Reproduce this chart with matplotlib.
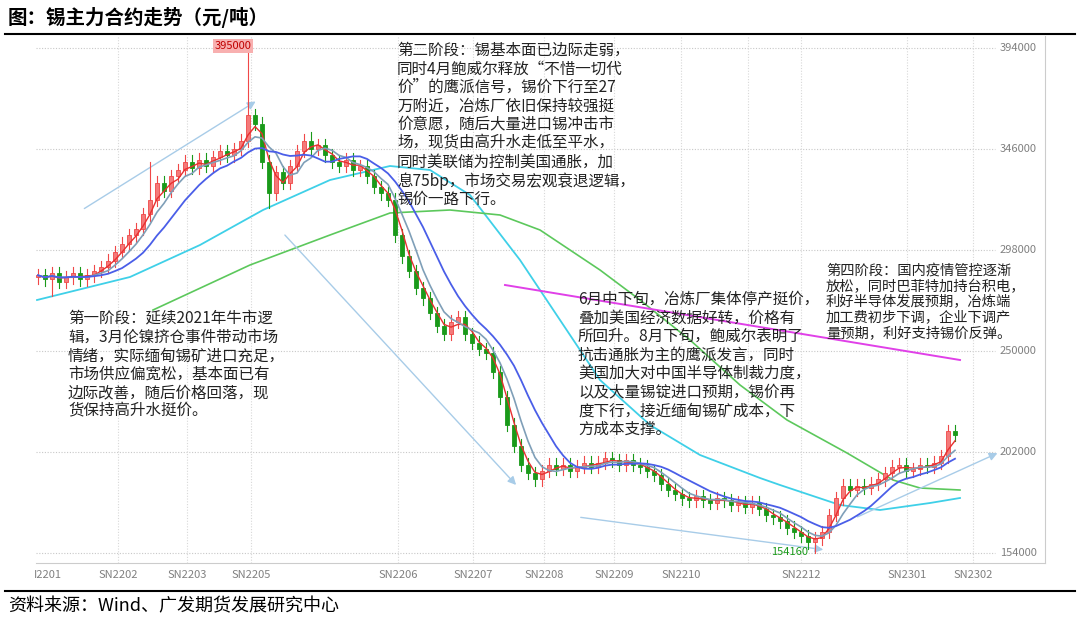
import matplotlib
matplotlib.use("Agg")
import matplotlib.pyplot as plt
import numpy as np
import pandas as pd
from matplotlib.patches import Rectangle

plt.rcParams['font.family'] = ['Noto Sans CJK SC', 'DejaVu Sans']

# closing prices (thousand yuan/ton), one candle per ~2 trading days
closes = [286,284,287,283,285,287,284,286,288,290,
          293,297,301,305,308,315,322,330,326,333,
          336,340,337,341,338,342,345,343,346,350,
          362,358,340,325,335,330,338,345,350,346,
          348,343,340,338,341,336,338,333,328,325,
          322,305,295,288,280,275,268,262,258,264,
          266,258,254,251,249,240,228,215,205,196,
          192,189,193,196,194,196,193,195,197,195,
          197,199,198,196,198,196,195,193,191,187,
          184,182,180,179,181,179,178,180,179,177,
          178,176,178,175,172,171,169,166,164,162,
          159,161,164,172,180,186,184,186,185,187,
          189,192,195,196,193,194,196,195,197,200,212,210]
spike_high = {30: 395.0, 16: 340.0, 39: 354.0}
spike_low = {33: 318.0, 111: 154.16, 2: 276.0}

# longer moving averages: (pixel x, pixel y)
ma60_px = [(37,300),(130,277),(200,245),(263,210),(330,180),(390,166),(430,170),(470,195),
           (520,260),(560,320),(600,380),(650,425),(700,455),(760,478),(780,485),(840,505),
           (880,510),(930,503),(960,498)]
ma120_px = [(153,310),(250,265),(330,235),(390,213),(450,210),(500,215),(540,230),(600,270),
            (640,300),(690,340),(740,385),(787,420),(847,453),(893,480),(920,488),(960,490)]

xticks_px = [48,118,187,251,398,473,544,614,681,801,907,973]
xtick_labels = ['I2201','SN2202','SN2203','SN2205','SN2206','SN2207','SN2208','SN2209','SN2210','SN2212','SN2301','SN2302']
ylevels = [154000,202000,250000,298000,346000,394000]

def px2i(x): return (x-38)/7.0
def py2p(y): return 154 + (553-y)/2.104

fig = plt.figure(figsize=(10.8,6.2), dpi=100)
ax = fig.add_axes([36/1080, 1-563/620, 1009/1080, 527/620])
c = np.array(closes, float)
o = np.concatenate([[c[0]-1], c[:-1]])
n = len(c)
for i in range(n):
    up = c[i] >= o[i]
    col = '#f04848' if up else '#1a9a1a'
    hi = max(o[i], c[i]) + 3.0
    lo = min(o[i], c[i]) - 3.0
    if i in spike_high: hi = spike_high[i]
    if i in spike_low: lo = spike_low[i]
    ax.plot([i,i],[lo,hi], color=col, lw=0.8, zorder=3)
    b = min(o[i],c[i]); h = max(abs(c[i]-o[i]), 0.4)
    ax.add_patch(Rectangle((i-0.3,b),0.6,h, facecolor=col if not up else '#f47a7a', edgecolor=col, lw=0.6, zorder=4))

s = pd.Series(c)
idx = np.arange(n)
ax.plot(idx, s.rolling(3,min_periods=1).mean(), color='#e83030', lw=1.0, zorder=5)
ax.plot(idx, s.rolling(5,min_periods=1).mean(), color='#7f9fb8', lw=1.2, zorder=5)
ax.plot(idx, s.rolling(10,min_periods=1).mean(), color='#4a5ee8', lw=1.3, zorder=5)
ax.plot([px2i(x) for x,_ in ma60_px],[py2p(y) for _,y in ma60_px], color='#3fd0e8', lw=1.3, zorder=2)
ax.plot([px2i(x) for x,_ in ma120_px],[py2p(y) for _,y in ma120_px], color='#5cc85c', lw=1.2, zorder=2)
ax.plot([px2i(505),px2i(960)],[py2p(285),py2p(360)], color='#e040e8', lw=1.4, zorder=2)

for (x0,y0,x1,y1) in [(82,210,258,100),(283,233,518,487),(578,517,826,550),(855,518,1000,452)]:
    ax.annotate('', xy=(px2i(x1),py2p(y1)), xytext=(px2i(x0),py2p(y0)),
                arrowprops=dict(arrowstyle='-|>', color='#a8cce8', lw=1.0, mutation_scale=12), zorder=2)

xl = (px2i(36), px2i(1045))
ax.set_xlim(*xl); ax.set_ylim(py2p(563), py2p(36))
for lv in ylevels:
    p = lv/1000
    ax.plot([xl[0], px2i(995)],[p,p], color='#c8c8c8', lw=0.8, ls=(0,(1,1.5)), zorder=1)
    ax.text(px2i(1000), p, str(lv), fontsize=8, color='#808080', va='center', ha='left')
for x in xticks_px[1:]:
    ax.axvline(px2i(x), color='#d8d8d8', lw=0.8, ls=(0,(1,1.5)), zorder=1)
ax.axvline(px2i(748), color='#d8d8d8', lw=0.8, ls=(0,(1,1.5)), zorder=1)
ax.set_xticks([px2i(x) for x in xticks_px]); ax.set_xticklabels(xtick_labels, fontsize=8, color='#808080')
ax.tick_params(axis='x', length=0, pad=5)
ax.set_yticks([])
for sp in ['top','left']: ax.spines[sp].set_visible(False)
ax.spines['bottom'].set_color('#cccccc'); ax.spines['right'].set_color('#cccccc')

ax.text(px2i(233), 395, '395000', fontsize=8, color='#c00000', ha='center', va='center',
        bbox=dict(boxstyle='square,pad=0.15', fc='#f8b0b0', ec='none'))
ax.text(px2i(790), 154.5, '154160', fontsize=8, color='#1a9a1a', ha='center', va='center')

tk = dict(fontsize=11.2, color='#222222', va='top', ha='left', linespacing=1.12, zorder=6)
ax.text(px2i(397), py2p(42), "第二阶段：锡基本面已边际走弱，\n同时4月鲍威尔释放“不惜一切代\n价”的鹰派信号，锡价下行至27\n万附近，冶炼厂依旧保持较强挺\n价意愿，随后大量进口锡冲击市\n场，现货由高升水走低至平水，\n同时美联储为控制美国通胀，加\n息75bp，市场交易宏观衰退逻辑，\n锡价一路下行。", **tk)
ax.text(px2i(68), py2p(310), "第一阶段：延续2021年牛市逻\n辑，3月伦镍挤仓事件带动市场\n情绪，实际缅甸锡矿进口充足，\n市场供应偏宽松，基本面已有\n边际改善，随后价格回落，现\n货保持高升水挺价。", **tk)
ax.text(px2i(578), py2p(291), "6月中下旬，冶炼厂集体停产挺价，\n叠加美国经济数据好转，价格有\n所回升。8月下旬，鲍威尔表明了\n抗击通胀为主的鹰派发言，同时\n美国加大对中国半导体制裁力度，\n以及大量锡锭进口预期，锡价再\n度下行，接近缅甸锡矿成本，下\n方成本支撑。", **tk)
tk4 = dict(tk); tk4['fontsize'] = 10.3
ax.text(px2i(826), py2p(264), "第四阶段：国内疫情管控逐渐\n放松，同时巴菲特加持台积电，\n利好半导体发展预期，冶炼端\n加工费初步下调，企业下调产\n量预期，利好支持锡价反弹。", **tk4)

fig.text(8/1080, 1-18/620, "图：锡主力合约走势（元/吨）", fontsize=14, fontweight='bold', va='center', ha='left')
fig.add_artist(plt.Line2D([5/1080, 1075/1080],[1-34/620,1-34/620], color='black', lw=1.5))
fig.add_artist(plt.Line2D([5/1080, 1075/1080],[1-591/620,1-591/620], color='black', lw=1.5))
fig.text(8/1080, 1-606/620, "资料来源：Wind、广发期货发展研究中心", fontsize=13, va='center', ha='left')
fig.savefig('out.png', dpi=100)
